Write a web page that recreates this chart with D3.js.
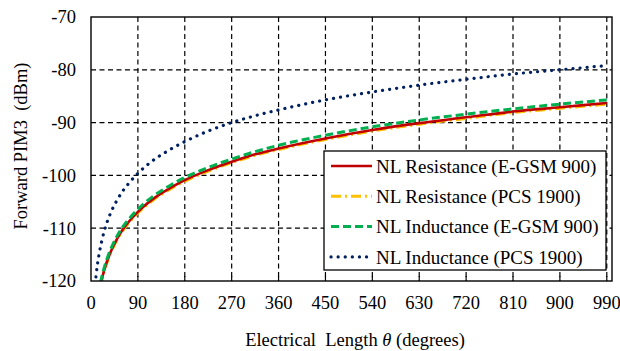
<!DOCTYPE html>
<html><head><meta charset="utf-8">
<script src="https://cdn.jsdelivr.net/npm/d3@7"></script>
<style>body{margin:0;background:#fff}</style>
</head><body><svg id="c" width="620" height="351"></svg>
<script>
const theta = [8,10,15,18,20,25,30,40,50,60,75,90,120,150,180,225,270,315,360,450,540,630,720,810,900,990];
const resGSM = [null,null,null,-120.9,-120.0,-118.1,-116.5,-114.0,-112.0,-110.4,-108.5,-106.9,-104.4,-102.5,-100.9,-99.0,-97.4,-96.0,-94.9,-93.0,-91.4,-90.1,-89.0,-87.9,-87.1,-86.3];
const resPCS = [null,null,null,-121.1,-120.2,-118.3,-116.7,-114.2,-112.2,-110.6,-108.7,-107.1,-104.6,-102.7,-101.1,-99.2,-97.6,-96.2,-95.1,-93.2,-91.6,-90.3,-89.2,-88.1,-87.3,-86.5];
const indGSM = [null,null,null,-120.4,-119.5,-117.6,-116.0,-113.5,-111.5,-109.9,-108.0,-106.4,-103.9,-102.0,-100.4,-98.5,-96.9,-95.5,-94.3,-92.4,-90.8,-89.5,-88.4,-87.4,-86.5,-85.7];
const indPCS = [-120.6,-118.7,-115.2,-113.6,-112.7,-110.7,-109.1,-106.6,-104.7,-103.1,-101.2,-99.6,-97.1,-95.2,-93.6,-91.6,-90.0,-88.7,-87.6,-85.7,-84.2,-82.9,-81.8,-80.8,-80.0,-79.2];
const seriesNames = ["NL Resistance (E-GSM 900)","NL Resistance (PCS 1900)","NL Inductance (E-GSM 900)","NL Inductance (PCS 1900)"];
const xTicks = [0,90,180,270,360,450,540,630,720,810,900,990];
const yTicks = [-120,-110,-100,-90,-80,-70];

const FONT = "Liberation Serif";
const styles = [
  {color:"#C00000", width:2.6, dash:null, cap:"butt"},
  {color:"#FFC000", width:3, dash:"10,4,2,4", cap:"butt"},
  {color:"#00B050", width:3, dash:"8,4", cap:"butt"},
  {color:"#002060", width:3.2, dash:"0.1,7", cap:"round"}
];
const seriesVals = [resGSM, resPCS, indGSM, indPCS];
const drawOrder = [1,0,2,3];

const svg = d3.select("#c");
const L=91, R=612, T=17, B=281;
const x = d3.scaleLinear().domain([0,1000]).range([L,R]);
const y = d3.scaleLinear().domain([-120,-70]).range([B,T]);

svg.append("defs").append("clipPath").attr("id","clip").append("rect")
  .attr("x",L).attr("y",T).attr("width",R-L).attr("height",B-T);

const g = svg.append("g");
g.selectAll(".hg").data(yTicks.filter(v=>v>-120&&v<-70)).join("line")
  .attr("x1",L).attr("x2",R).attr("y1",d=>y(d)).attr("y2",d=>y(d))
  .attr("stroke","#000").attr("stroke-width",1.2).attr("stroke-dasharray","5,3.5");
g.selectAll(".vg").data(xTicks.filter(v=>v>0)).join("line")
  .attr("x1",d=>x(d)).attr("x2",d=>x(d)).attr("y1",T).attr("y2",B)
  .attr("stroke","#000").attr("stroke-width",1.2).attr("stroke-dasharray","5,3.5");

const cg = svg.append("g").attr("clip-path","url(#clip)");
drawOrder.forEach(i=>{
  const s=styles[i];
  const line=d3.line().defined(d=>d[1]!==null).x(d=>x(d[0])).y(d=>y(d[1])).curve(d3.curveMonotoneX);
  cg.append("path").datum(theta.map((t,k)=>[t,seriesVals[i][k]]))
    .attr("d",line).attr("fill","none").attr("stroke",s.color).attr("stroke-width",s.width)
    .attr("stroke-dasharray",s.dash).attr("stroke-linecap",s.cap);
});

const lg = svg.append("g");
lg.append("rect").attr("x",324).attr("y",151).attr("width",282).attr("height",119)
  .attr("fill","#fff").attr("stroke","#000").attr("stroke-width",1.3);
seriesNames.forEach((n,i)=>{
  const s=styles[i]; const yy=166+i*30.3;
  lg.append("line").attr("x1",331).attr("x2",372).attr("y1",yy).attr("y2",yy)
    .attr("stroke",s.color).attr("stroke-width",s.width).attr("stroke-dasharray",s.dash).attr("stroke-linecap",s.cap);
  lg.append("text").attr("font-family",FONT).attr("x",376).attr("y",yy).attr("dy","0.35em").attr("font-size",19).text(n);
});
svg.append("g").selectAll("line").data(xTicks.filter(v=>v>0)).join("line")
  .attr("x1",d=>x(d)).attr("x2",d=>x(d)).attr("y1",B).attr("y2",B-5)
  .attr("stroke","#000").attr("stroke-width",1.2);

svg.append("rect").attr("x",L).attr("y",T).attr("width",R-L).attr("height",B-T)
  .attr("fill","none").attr("stroke","#000").attr("stroke-width",1.4);

svg.append("g").selectAll("text").data(yTicks).join("text").attr("font-family",FONT)
  .attr("x",76).attr("y",d=>y(d)).attr("dy","0.35em").attr("text-anchor","end").attr("font-size",18.5).text(d=>d);
svg.append("g").selectAll("text").data(xTicks).join("text").attr("font-family",FONT)
  .attr("x",d=>x(d)).attr("y",309).attr("text-anchor","middle").attr("font-size",18.5).text(d=>d);

const xt = svg.append("text").attr("font-family",FONT).attr("x",355).attr("y",346).attr("text-anchor","middle").attr("font-size",18.5);
xt.append("tspan").text("Electrical\u00a0 Length ");
xt.append("tspan").attr("font-style","italic").text("θ");
xt.append("tspan").text(" (degrees)");
svg.append("text").attr("font-family",FONT).attr("transform","translate(27,146) rotate(-90)").attr("text-anchor","middle")
  .attr("font-size",18.5).text("Forward PIM3\u00a0 (dBm)");
</script></body></html>
